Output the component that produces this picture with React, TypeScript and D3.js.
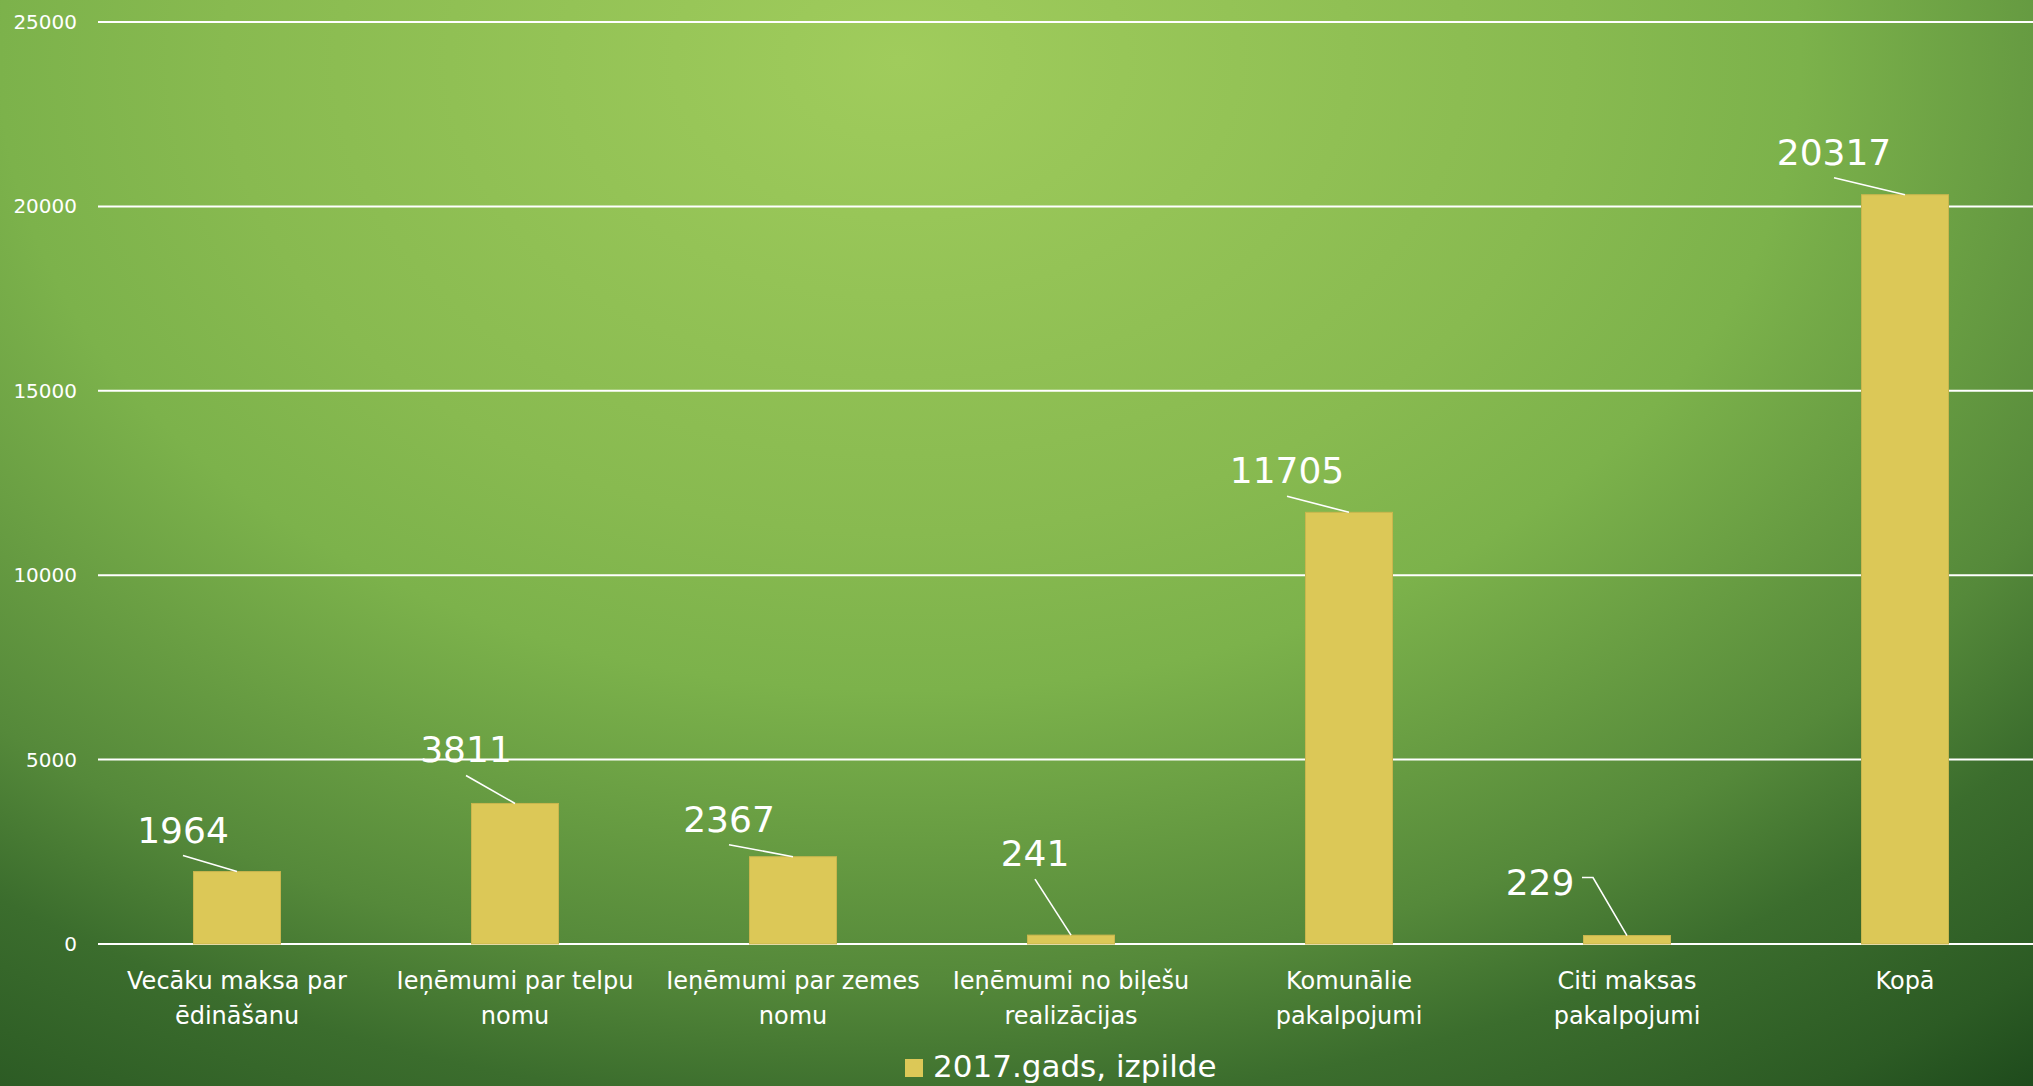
import React from "react";
import * as d3 from "d3";

// data
const categories = [
  "Vecāku maksa par\nēdināšanu",
  "Ieņēmumi par telpu\nnomu",
  "Ieņēmumi par zemes\nnomu",
  "Ieņēmumi no biļešu\nrealizācijas",
  "Komunālie\npakalpojumi",
  "Citi maksas\npakalpojumi",
  "Kopā",
];
const values2017 = [1964, 3811, 2367, 241, 11705, 229, 20317];
const seriesName = "2017.gads, izpilde";
const yTicks = [0, 5000, 10000, 15000, 20000, 25000];

// hand placed data labels (offset from bar top centre), like in the source slide
const labelOffsets = [
  { dx: -54, dy: -29 },
  { dx: -49, dy: -41 },
  { dx: -64, dy: -25 },
  { dx: -36, dy: -69 },
  { dx: -62, dy: -29 },
  { dx: -87, dy: -41, side: true },
  { dx: -71, dy: -30 },
];

const W = 2033;
const H = 1086;
const margin = { top: 22, left: 98, bottom: 142, right: -11 };
const FONT = "'DejaVu Sans', sans-serif";

const App = () => {
  const x = d3
    .scaleBand()
    .domain(categories)
    .range([margin.left, W - margin.right])
    .paddingInner(0.687)
    .paddingOuter(0.3435);

  const y = d3
    .scaleLinear()
    .domain([0, 25000])
    .range([H - margin.bottom, margin.top]);

  return (
    <svg
      width={W}
      height={H}
      style={{ position: "absolute", left: 0, top: 0, display: "block" }}
    >
      <defs>
        <radialGradient
          id="bg"
          gradientUnits="userSpaceOnUse"
          cx={900}
          cy={60}
          r={1875}
          gradientTransform="translate(900,60) scale(1,0.7) translate(-900,-60)"
        >
          <stop offset="0" stopColor="#a0cc5c" />
          <stop offset="0.36" stopColor="#88ba50" />
          <stop offset="0.48" stopColor="#7cb24b" />
          <stop offset="0.7" stopColor="#55893a" />
          <stop offset="0.8" stopColor="#3b6d2d" />
          <stop offset="0.92" stopColor="#2c5b24" />
          <stop offset="1" stopColor="#1c481b" />
        </radialGradient>
      </defs>
      <rect x={0} y={0} width={W} height={H} fill="url(#bg)" />

      {/* grid + y axis labels */}
      {yTicks.map((t) => (
        <g key={t}>
          <line
            x1={margin.left}
            x2={W}
            y1={y(t)}
            y2={y(t)}
            stroke="#ffffff"
            strokeWidth={2}
          />
          <text
            x={77}
            y={y(t)}
            dy="0.35em"
            textAnchor="end"
            fill="#ffffff"
            fontFamily={FONT}
            fontSize={20}
          >
            {t}
          </text>
        </g>
      ))}

      {/* bars */}
      {values2017.map((v, i) => (
        <rect
          key={i}
          x={x(categories[i])}
          y={y(v)}
          width={x.bandwidth()}
          height={y(0) - y(v)}
          fill="#dcc857"
          stroke="#c9b64e"
          strokeWidth={1}
        />
      ))}

      {/* data labels with leader lines */}
      {values2017.map((v, i) => {
        const cx = x(categories[i]) + x.bandwidth() / 2;
        const ty = y(v);
        const o = labelOffsets[i];
        const lx = cx + o.dx;
        const ly = ty + o.dy;
        let pts;
        if (o.side) {
          pts = [
            [lx + 42, ly - 17],
            [lx + 53, ly - 17],
            [cx, ty],
          ];
        } else {
          pts = [
            [lx, ly + 13],
            [cx, ty],
          ];
        }
        return (
          <g key={i}>
            <path
              d={d3.line()(pts)}
              fill="none"
              stroke="#ffffff"
              strokeWidth={1.6}
            />
            <text
              x={lx}
              y={ly}
              textAnchor="middle"
              fill="#ffffff"
              fontFamily={FONT}
              fontSize={36}
            >
              {v}
            </text>
          </g>
        );
      })}

      {/* category labels */}
      {categories.map((c) => (
        <text
          key={c}
          x={x(c) + x.bandwidth() / 2}
          y={989}
          textAnchor="middle"
          fill="#ffffff"
          fontFamily={FONT}
          fontSize={24}
        >
          {c.split("\n").map((ln, j) => (
            <tspan key={j} x={x(c) + x.bandwidth() / 2} dy={j === 0 ? 0 : 35}>
              {ln}
            </tspan>
          ))}
        </text>
      ))}

      {/* legend */}
      <rect x={905} y={1059} width={18} height={18} fill="#dcc857" />
      <text
        x={933}
        y={1077}
        fill="#ffffff"
        fontFamily={FONT}
        fontSize={31}
      >
        {seriesName}
      </text>
    </svg>
  );
};

export default App;
